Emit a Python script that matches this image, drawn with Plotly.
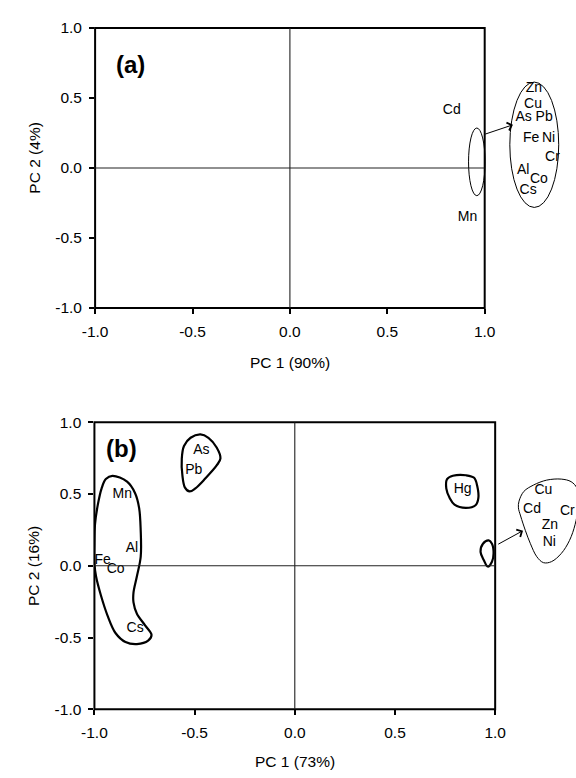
import plotly.graph_objects as go

FONT = "Arial, Liberation Sans, sans-serif"

# ---------------- data ----------------
TICK_VALUES = [-1.0, -0.5, 0.0, 0.5, 1.0]
TICK_LABELS = ["-1.0", "-0.5", "0.0", "0.5", "1.0"]

# Panel (a): variable labels (PC1, PC2 positions)
A_LABELS = ["Cd", "Mn", "Zn", "Cu", "As", "Pb", "Fe", "Ni", "Cr", "Al", "Co", "Cs"]
A_PC1 = [0.831, 0.912, 1.253, 1.248, 1.200, 1.305, 1.238, 1.328, 1.348, 1.198, 1.278, 1.223]
A_PC2 = [0.410, -0.352, 0.564, 0.452, 0.362, 0.362, 0.208, 0.208, 0.075, -0.016, -0.086, -0.163]

# Panel (a): grouping ellipses (bounds) and arrow (tail -> head)
A_SMALL_ELLIPSE_PC1 = [0.917, 1.002]
A_SMALL_ELLIPSE_PC2 = [-0.198, 0.285]
A_BIG_ELLIPSE_PC1 = [1.129, 1.380]
A_BIG_ELLIPSE_PC2 = [-0.282, 0.613]
A_ARROW_PC1 = [0.995, 1.145]
A_ARROW_PC2 = [0.238, 0.308]

# Panel (b): variable labels
B_LABELS = ["As", "Pb", "Mn", "Al", "Fe", "Co", "Cs", "Hg", "Cu", "Cd", "Cr", "Zn", "Ni"]
B_PC1 = [-0.466, -0.504, -0.861, -0.813, -0.959, -0.894, -0.797, 0.838, 1.241, 1.184, 1.360, 1.273, 1.270]
B_PC2 = [0.801, 0.661, 0.495, 0.120, 0.036, -0.027, -0.436, 0.535, 0.522, 0.392, 0.381, 0.279, 0.159]

# Panel (b): group outlines
B_LEFT_GROUP_PC1 = [-0.910, -0.837, -0.797, -0.777, -0.769, -0.769, -0.788, -0.805, -0.805, -0.788,
                    -0.748, -0.715, -0.732, -0.788, -0.845, -0.894, -0.935, -0.967, -0.992, -1.000,
                    -1.000, -0.997, -0.983, -0.964, -0.943]
B_LEFT_GROUP_PC2 = [0.627, 0.586, 0.506, 0.404, 0.245, 0.063, -0.073, -0.187, -0.255, -0.334,
                    -0.413, -0.481, -0.522, -0.545, -0.531, -0.470, -0.345, -0.209, -0.073, 0.018,
                    0.154, 0.290, 0.426, 0.540, 0.604]
B_ASPB_GROUP_PC1 = [-0.553, -0.520, -0.471, -0.431, -0.390, -0.371, -0.390, -0.447, -0.496, -0.525,
                    -0.548, -0.561, -0.564]
B_ASPB_GROUP_PC2 = [0.835, 0.892, 0.915, 0.892, 0.824, 0.749, 0.699, 0.608, 0.540, 0.518,
                    0.545, 0.631, 0.745]
B_HG_GROUP_PC1 = [0.760, 0.789, 0.854, 0.895, 0.911, 0.916, 0.902, 0.854, 0.797, 0.773, 0.756]
B_HG_GROUP_PC2 = [0.604, 0.627, 0.631, 0.613, 0.552, 0.472, 0.422, 0.404, 0.426, 0.472, 0.540]
B_SMALL_GROUP_PC1 = [0.968, 0.984, 0.992, 0.984, 0.963, 0.943, 0.927, 0.939]
B_SMALL_GROUP_PC2 = [0.177, 0.154, 0.086, 0.029, -0.005, 0.041, 0.097, 0.154]
B_ZOOM_GROUP_PC1 = [1.119, 1.143, 1.192, 1.257, 1.330, 1.379, 1.408, 1.413, 1.399, 1.371,
                    1.330, 1.281, 1.241, 1.208, 1.176, 1.151, 1.127, 1.116]
B_ZOOM_GROUP_PC2 = [0.450, 0.518, 0.563, 0.597, 0.604, 0.586, 0.540, 0.404, 0.288, 0.177,
                    0.086, 0.029, 0.022, 0.063, 0.154, 0.245, 0.347, 0.404]
B_ARROW_PC1 = [1.008, 1.139]
B_ARROW_PC2 = [0.145, 0.245]

# ---------------- layout geometry ----------------
W, H = 576, 778
A_XRANGE = [-1.0, 1.4687]
B_XRANGE = [-1.0, 1.4034]
A_XDOMAIN = [84 / W, 1.0]
B_XDOMAIN = [83.3 / W, 1.0]
A_YDOMAIN = [(H - 305.7) / H, (H - 19.3) / H]
B_YDOMAIN = [(H - 716.0) / H, (H - 422.5) / H]

fig = go.Figure()


def closed(seq):
    return list(seq) + [seq[0]]


LABEL_FONT = dict(family=FONT, size=14, color="black")
TICK_FONT = dict(family=FONT, size=15.5, color="black")
TITLE_FONT = dict(family=FONT, size=15.5, color="black")
PANEL_FONT = dict(family=FONT, size=24, color="black")

# text labels
fig.add_trace(go.Scatter(x=A_PC1, y=A_PC2, text=A_LABELS, mode="text", xaxis="x", yaxis="y",
                         textposition="middle center", cliponaxis=False, hoverinfo="skip",
                         textfont=LABEL_FONT))
fig.add_trace(go.Scatter(x=B_PC1, y=B_PC2, text=B_LABELS, mode="text", xaxis="x2", yaxis="y2",
                         textposition="middle center", cliponaxis=False, hoverinfo="skip",
                         textfont=LABEL_FONT))

# group outlines in panel (b)
for gx, gy, lw in [(B_LEFT_GROUP_PC1, B_LEFT_GROUP_PC2, 2.2),
                   (B_ASPB_GROUP_PC1, B_ASPB_GROUP_PC2, 2.2),
                   (B_HG_GROUP_PC1, B_HG_GROUP_PC2, 2.2),
                   (B_SMALL_GROUP_PC1, B_SMALL_GROUP_PC2, 2.2),
                   (B_ZOOM_GROUP_PC1, B_ZOOM_GROUP_PC2, 1.0)]:
    fig.add_trace(go.Scatter(x=closed(gx), y=closed(gy), mode="lines", xaxis="x2", yaxis="y2",
                             hoverinfo="skip",
                             line=dict(color="black", width=lw, shape="spline", smoothing=1.0)))

shapes = []
for xr, yr, xdom, ydom, xrange_ in [("x", "y", "x domain", "y domain", A_XRANGE),
                                     ("x2", "y2", "x2 domain", "y2 domain", B_XRANGE)]:
    # frame of the -1..1 box, placed in domain units so it is not clipped
    frame_right = (1.0 - xrange_[0]) / (xrange_[1] - xrange_[0])
    shapes.append(dict(type="rect", xref=xdom, yref=ydom, x0=0, x1=frame_right, y0=0, y1=1,
                       line=dict(color="black", width=2), layer="above"))
    # zero lines
    shapes.append(dict(type="line", xref=xr, yref=yr, x0=-1, x1=1, y0=0, y1=0,
                       line=dict(color="#222", width=1.1)))
    shapes.append(dict(type="line", xref=xr, yref=yr, x0=0, x1=0, y0=-1, y1=1,
                       line=dict(color="#222", width=1.1)))

# ellipses in panel (a)
shapes.append(dict(type="circle", xref="x", yref="y",
                   x0=A_SMALL_ELLIPSE_PC1[0], x1=A_SMALL_ELLIPSE_PC1[1],
                   y0=A_SMALL_ELLIPSE_PC2[0], y1=A_SMALL_ELLIPSE_PC2[1],
                   line=dict(color="black", width=1)))
shapes.append(dict(type="circle", xref="x", yref="y",
                   x0=A_BIG_ELLIPSE_PC1[0], x1=A_BIG_ELLIPSE_PC1[1],
                   y0=A_BIG_ELLIPSE_PC2[0], y1=A_BIG_ELLIPSE_PC2[1],
                   line=dict(color="black", width=1)))

annotations = [
    dict(text="<b>(a)</b>", x=-0.819, y=0.739, xref="x", yref="y", showarrow=False,
         font=PANEL_FONT),
    dict(text="<b>(b)</b>", x=-0.865, y=0.819, xref="x2", yref="y2", showarrow=False,
         font=PANEL_FONT),
    # arrows
    dict(text="", x=A_ARROW_PC1[1], y=A_ARROW_PC2[1], ax=A_ARROW_PC1[0], ay=A_ARROW_PC2[0],
         xref="x", yref="y", axref="x", ayref="y", showarrow=True, arrowhead=4,
         arrowsize=1.6, arrowwidth=1, arrowcolor="black", standoff=0),
    dict(text="", x=B_ARROW_PC1[1], y=B_ARROW_PC2[1], ax=B_ARROW_PC1[0], ay=B_ARROW_PC2[0],
         xref="x2", yref="y2", axref="x2", ayref="y2", showarrow=True, arrowhead=4,
         arrowsize=1.6, arrowwidth=1, arrowcolor="black", standoff=0),
    # axis titles
    dict(text="PC 1 (90%)", x=0, y=0, xref="x", yref="y domain", yanchor="middle",
         yshift=-54, showarrow=False, font=TITLE_FONT),
    dict(text="PC 1 (73%)", x=0, y=0, xref="x2", yref="y2 domain", yanchor="middle",
         yshift=-52, showarrow=False, font=TITLE_FONT),
    dict(text="PC 2 (4%)", x=21.7 / W, y=0.075, xref="paper", yref="y", textangle=-90,
         xanchor="center", yanchor="middle", showarrow=False, font=TITLE_FONT),
    dict(text="PC 2 (16%)", x=21.7 / W, y=0.0, xref="paper", yref="y2", textangle=-90,
         xanchor="center", yanchor="middle", showarrow=False, font=TITLE_FONT),
]

common_x = dict(showline=False, zeroline=False, showgrid=False, ticks="outside", ticklen=5,
                tickwidth=1.5, tickcolor="black", tickvals=TICK_VALUES, ticktext=TICK_LABELS,
                tickfont=TICK_FONT, ticklabelstandoff=4, fixedrange=True)
common_y = dict(showline=False, zeroline=False, showgrid=False,
                ticks="outside", ticklen=5, tickwidth=1.5, tickcolor="black",
                tickvals=TICK_VALUES, ticktext=TICK_LABELS, range=[-1, 1],
                tickfont=TICK_FONT, ticklabelstandoff=4, fixedrange=True)

fig.update_layout(
    width=W, height=H, margin=dict(l=0, r=0, t=0, b=0),
    paper_bgcolor="white", plot_bgcolor="white", showlegend=False,
    xaxis=dict(domain=A_XDOMAIN, range=A_XRANGE, anchor="y", **common_x),
    yaxis=dict(domain=A_YDOMAIN, anchor="x", **common_y),
    xaxis2=dict(domain=B_XDOMAIN, range=B_XRANGE, anchor="y2", **common_x),
    yaxis2=dict(domain=B_YDOMAIN, anchor="x2", **common_y),
    shapes=shapes, annotations=annotations,
)

fig.write_html("out.html", config={"displayModeBar": False},
               post_script="document.body.style.margin='0px';document.body.style.overflow='hidden';")
